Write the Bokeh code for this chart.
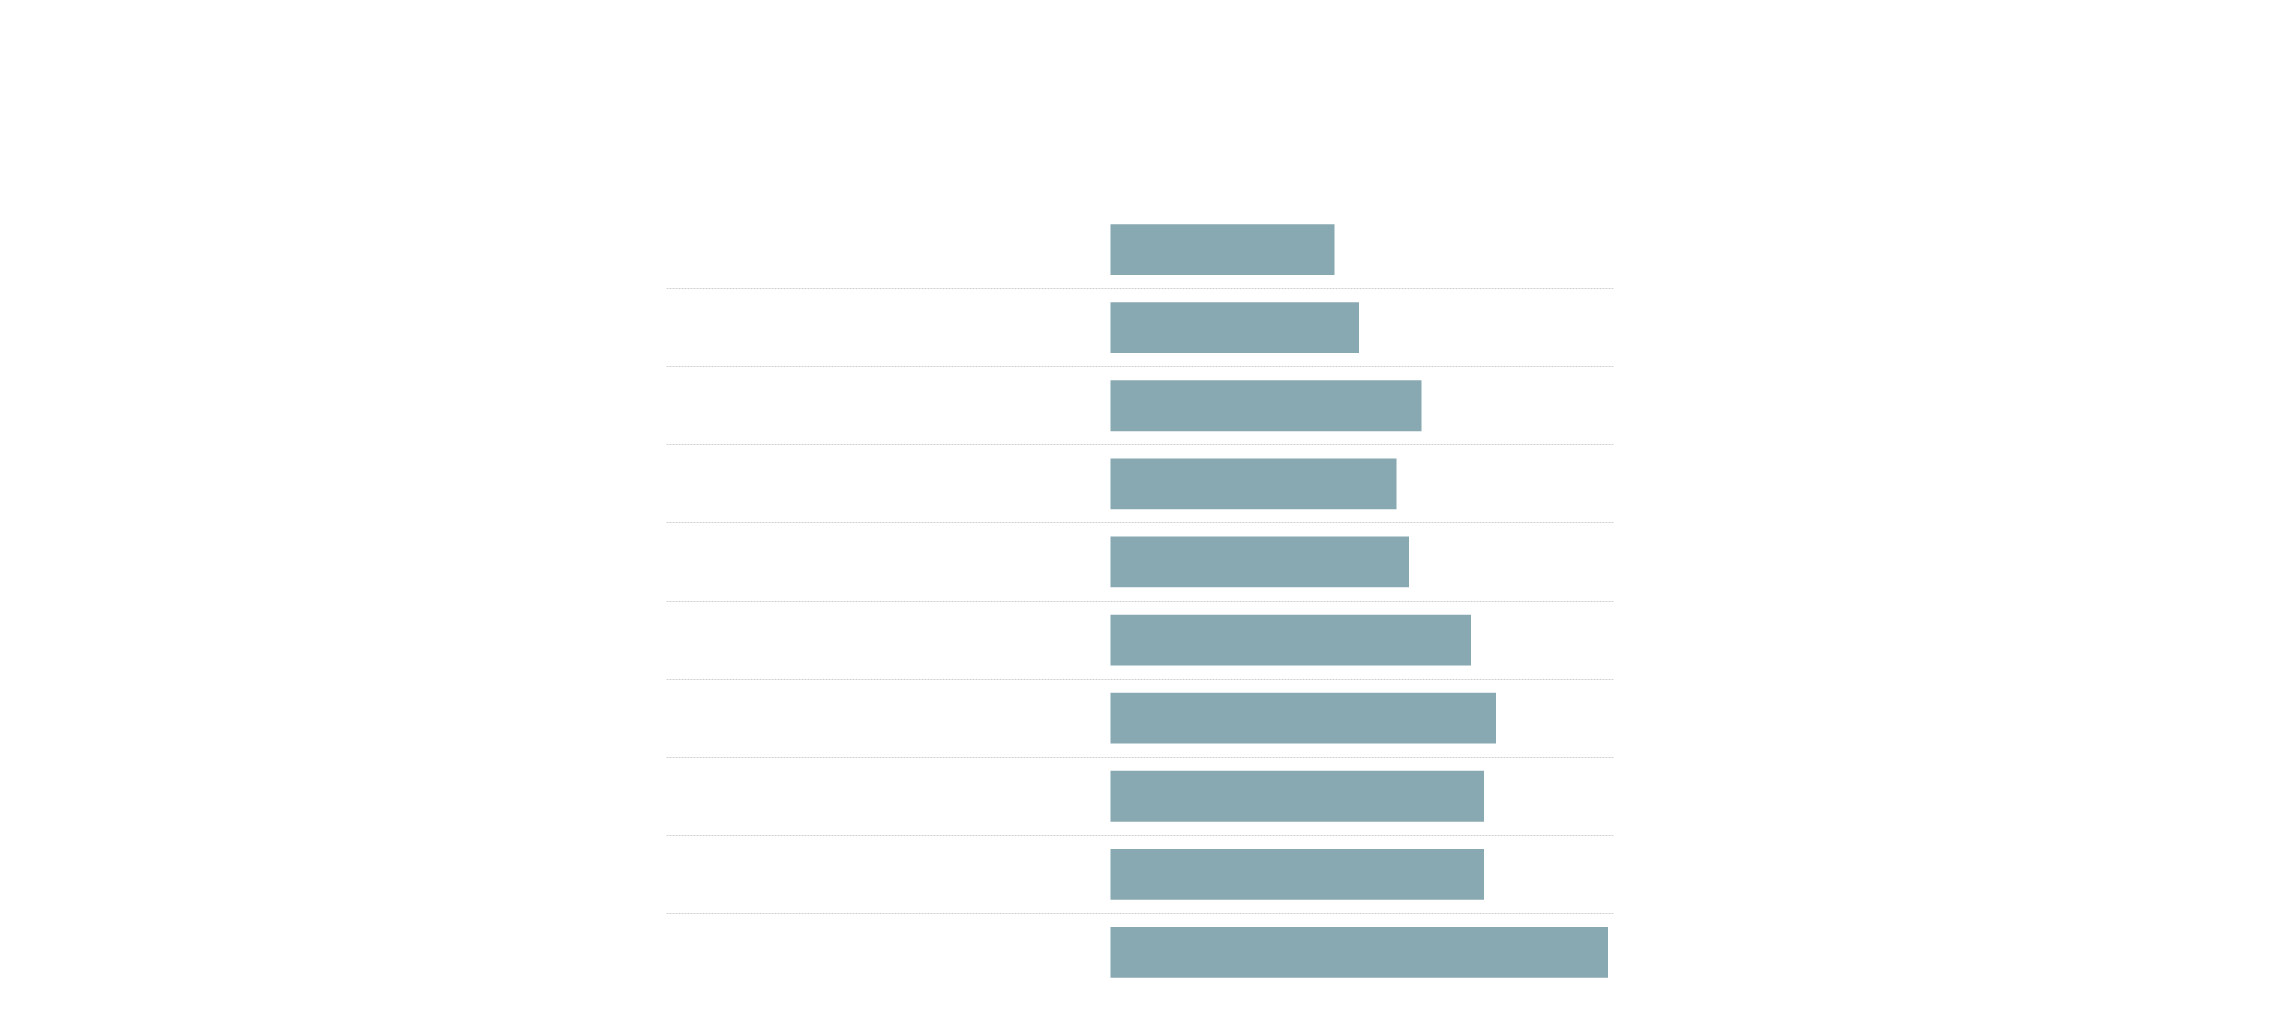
from bokeh.plotting import figure
from bokeh.models import Range1d, FixedTicker, ColumnDataSource
from bokeh.embed import file_html
from bokeh.resources import INLINE

# Data (no visible labels in the reference; rows listed top to bottom)
rows = [1, 2, 3, 4, 5, 6, 7, 8, 9, 10]
values = [44.8, 49.7, 62.2, 57.2, 59.7, 72.1, 77.1, 74.7, 74.7, 99.5]
separators = [1.5, 2.5, 3.5, 4.5, 5.5, 6.5, 7.5, 8.5, 9.5]

BAR_COLOR = "#88A9B1"
GRID_COLOR = "#cfcfcf"

W, H = 2262, 1000
left_border, top_border = 666, 210
frame_w, frame_h = 947, 781

p = figure(
    width=W, height=H,
    output_backend="svg", toolbar_location=None,
    x_axis_location=None, y_axis_location=None,
    x_range=Range1d(-88.8, 100.6),
    y_range=Range1d(10.5, 0.5),
    min_border_left=left_border,
    min_border_right=W - left_border - frame_w,
    min_border_top=top_border,
    min_border_bottom=H - top_border - frame_h,
)
p.outline_line_color = None
p.background_fill_color = "white"
p.border_fill_color = "white"

p.xgrid.visible = False
p.ygrid.ticker = FixedTicker(ticks=separators)
p.ygrid.grid_line_color = GRID_COLOR
p.ygrid.grid_line_width = 1
p.ygrid.grid_line_dash = "2 1"

src = ColumnDataSource(dict(y=rows, right=values))
p.hbar(y="y", left=0, right="right", height=0.65, source=src,
       fill_color=BAR_COLOR, line_color=None)

open("out.html", "w").write(file_html(p, INLINE))
